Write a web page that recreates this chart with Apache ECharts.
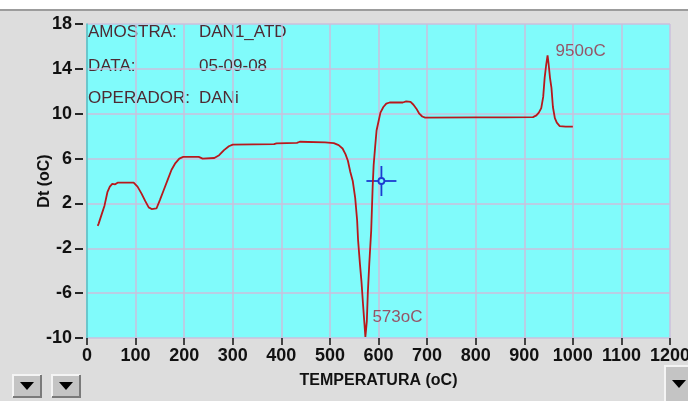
<!DOCTYPE html>
<html>
<head>
<meta charset="utf-8">
<script src="https://cdn.jsdelivr.net/npm/echarts@6/dist/echarts.min.js"></script>
<style>
html,body{margin:0;padding:0;background:#dddddd;}
#c{width:688px;height:401px;}
</style>
</head>
<body>
<div id="c"></div>
<script>
// ---- data ----
var temperature = [22,24,30,36,42,47,52,58,63,80,96,104,112,120,127,133,143,150,158,166,174,182,190,198,230,238,262,272,282,292,300,385,390,432,438,490,508,518,526,532,537,542,547,552,556,558,562,565,568,571,573,576,578,581,585,588,590,593,596,600,604,610,616,623,650,657,666,672,678,684,690,696,800,860,918,925,930,935,939,942,945,948,950,953,956,959,963,967,973,985,1000];
var dt = [0.0,0.2,1.0,1.8,3.0,3.5,3.75,3.7,3.85,3.85,3.85,3.5,2.9,2.2,1.65,1.5,1.55,2.3,3.2,4.1,5.0,5.6,6.0,6.15,6.15,6.0,6.05,6.3,6.75,7.1,7.25,7.28,7.36,7.4,7.5,7.45,7.38,7.2,6.9,6.4,5.8,4.8,4.0,2.5,0.5,-1.3,-3.5,-5.0,-6.9,-8.7,-9.9,-8.5,-6.0,-3.4,-0.4,3.5,5.4,7.0,8.5,9.3,10.1,10.6,10.9,11.0,11.0,11.1,11.05,10.8,10.45,10.0,9.75,9.65,9.67,9.67,9.7,9.85,10.1,10.5,11.5,13.2,14.3,15.2,14.5,13.2,12.3,10.6,9.6,9.2,8.9,8.85,8.85];
var yTickLabels = ['-10','-6','-2','2','6','10','14','18'];
var peakLabels = [[573,-9.9,'573oC'],[948,15.2,'950oC']];
var cursorPoint = [[606,4]];
var infoLines = [['AMOSTRA:','DAN1_ATD'],['DATA:','05-09-08'],['OPERADOR:','DANi']];

var curve = temperature.map(function(t,i){return [t,dt[i]];});

var chart = echarts.init(document.getElementById('c'), null, {renderer:'canvas'});

function button(x,y,w,h,tx,ty){
  return {type:'group',children:[
    {type:'rect',shape:{x:x,y:y,width:w,height:h},style:{fill:'#c4c4c4',stroke:null}},
    {type:'polyline',shape:{points:[[x,y+h],[x,y],[x+w,y]]},style:{stroke:'#f4f4f4',lineWidth:2,fill:null}},
    {type:'polyline',shape:{points:[[x+w,y],[x+w,y+h],[x,y+h]]},style:{stroke:'#7a7a7a',lineWidth:2,fill:null}},
    {type:'polygon',shape:{points:[[tx-7,ty-4],[tx+7,ty-4],[tx,ty+4]]},style:{fill:'#000'}}
  ]};
}

var FONT = '"Liberation Sans", Arial, sans-serif';
var infoGraphics = [];
var infoY = [34,68,100];
infoLines.forEach(function(l,i){
  infoGraphics.push({type:'text',left:88,top:infoY[i]-10,style:{text:l[0],font:'17px '+FONT,fill:'#4e2a33'}});
  infoGraphics.push({type:'text',left:199,top:infoY[i]-10,style:{text:l[1],font:'17px '+FONT,fill:'#4e2a33'}});
});

var option = {
  backgroundColor:'#dddddd',
  animation:false,
  grid:{left:87,top:24,width:583,height:314,show:true,backgroundColor:'#80fbfb',borderWidth:0,
        containLabel:false,outerBoundsMode:'none'},
  xAxis:{
    type:'value',min:0,max:1200,interval:100,
    name:'TEMPERATURA (oC)',nameLocation:'middle',nameGap:35,nameMoveOverlap:false,
    nameTextStyle:{fontFamily:FONT,fontWeight:'bold',fontSize:16,color:'#111'},
    axisLine:{show:false,onZero:false},
    axisTick:{show:true,length:7,lineStyle:{color:'#111',width:1.5}},
    axisLabel:{margin:9,fontFamily:FONT,fontWeight:'bold',fontSize:18,color:'#111',
      formatter:function(v){return String(v);}},
    splitLine:{show:true,lineStyle:{color:'#cbbfdc',width:1.5}}
  },
  yAxis:[
    {type:'value',min:-10,max:18,show:true,
     axisLine:{show:true,onZero:false,lineStyle:{color:'#4cc4c4',width:1.5}},
     axisTick:{show:false},axisLabel:{show:false},splitLine:{show:false}},
    {type:'category',data:yTickLabels,boundaryGap:false,position:'left',offset:4,
     name:'Dt (oC)',nameLocation:'middle',nameGap:30,nameRotate:90,nameMoveOverlap:false,
     nameTextStyle:{fontFamily:FONT,fontWeight:'bold',fontSize:16,color:'#111'},
     axisLine:{show:false,onZero:false},
     axisTick:{show:true,length:8,lineStyle:{color:'#111',width:1.8}},
     axisLabel:{margin:11,fontFamily:FONT,fontWeight:'bold',fontSize:18,color:'#111'},
     splitLine:{show:true,lineStyle:{color:'#cbbfdc',width:1.5}}}
  ],
  series:[
    {type:'line',data:curve,yAxisIndex:0,symbol:'none',smooth:false,
     lineStyle:{color:'#b8181c',width:1.8}},
    {type:'scatter',data:peakLabels,yAxisIndex:0,symbolSize:0,
     label:{show:true,position:'right',distance:0,formatter:function(p){return p.value[2];},
       fontFamily:FONT,fontSize:17,color:'#9a2c44'},
     labelLayout:function(p){return p.dataIndex===0?{dx:7,dy:-20}:{dx:8,dy:-4};}},
    {type:'custom',data:cursorPoint,yAxisIndex:0,
     renderItem:function(params,api){
       var p = api.coord([api.value(0),api.value(1)]);
       var st = {stroke:'#1c3cd0',lineWidth:1.8,fill:null};
       return {type:'group',children:[
         {type:'line',shape:{x1:p[0]-15,y1:p[1],x2:p[0]-3,y2:p[1]},style:st},
         {type:'line',shape:{x1:p[0]+3,y1:p[1],x2:p[0]+15,y2:p[1]},style:st},
         {type:'line',shape:{x1:p[0],y1:p[1]-15,x2:p[0],y2:p[1]-3},style:st},
         {type:'line',shape:{x1:p[0],y1:p[1]+3,x2:p[0],y2:p[1]+15},style:st},
         {type:'circle',shape:{cx:p[0],cy:p[1],r:3},style:st}
       ]};
     }}
  ],
  graphic:[
    {type:'rect',shape:{x:0,y:0,width:688,height:9},style:{fill:'#ffffff'}},
    {type:'line',shape:{x1:0,y1:10,x2:688,y2:10},style:{stroke:'#9c9c9c',lineWidth:2}},
    button(13,375,28,22,27,386),
    button(52,375,28,22,66,386),
    button(665,366,28,36,679,384)
  ].concat(infoGraphics)
};
chart.setOption(option);
</script>
</body>
</html>
